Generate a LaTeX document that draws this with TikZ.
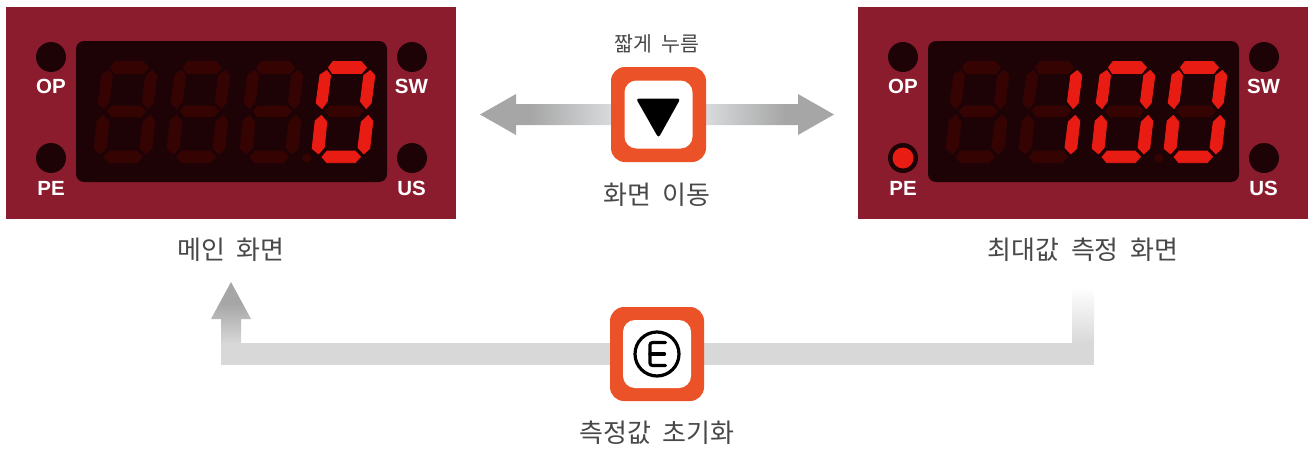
\documentclass[tikz,border=0pt]{standalone}
\usepackage{fontspec}
\setsansfont{Liberation Sans}
\newfontfamily\kr[WordSpace=2]{Noto Sans CJK KR}
\usetikzlibrary{calc,backgrounds}
\definecolor{panelred}{HTML}{8B1C2E}
\definecolor{dispdark}{HTML}{1E0306}
\definecolor{segdim}{HTML}{360303}
\definecolor{seglit}{HTML}{E91C14}
\definecolor{ledblack}{HTML}{1E0306}
\definecolor{btnorange}{HTML}{EC5228}
\definecolor{arrowdark}{HTML}{A6A6A6}
\definecolor{arrowpale}{HTML}{D8DADC}
\definecolor{barpale}{HTML}{D8D8D8}
\definecolor{labeltext}{HTML}{484848}
\pgfdeclarehorizontalshading{fadeleft}{100bp}{color(0bp)=(arrowdark); color(44bp)=(arrowdark); color(75bp)=(arrowpale); color(100bp)=(arrowpale)}
\pgfdeclarehorizontalshading{faderight}{100bp}{color(0bp)=(arrowpale); color(25bp)=(arrowpale); color(56bp)=(arrowdark); color(100bp)=(arrowdark)}
\pgfdeclareverticalshading{fadeup}{100bp}{color(0bp)=(barpale); color(25bp)=(barpale); color(58bp)=(arrowdark); color(100bp)=(arrowdark)}
\pgfdeclareverticalshading{fadewhite}{100bp}{color(0bp)=(barpale); color(25bp)=(barpale); color(75bp)=(white); color(100bp)=(white)}
\tikzset{
  L/.style={fill=seglit,draw=seglit,line width=0.9pt,line join=round},
  D/.style={fill=segdim,draw=segdim,line width=0.9pt,line join=round},
  panelbox/.style={fill=panelred,minimum width=450pt,minimum height=212pt,inner sep=0pt,outer sep=0pt},
  dispbox/.style={fill=dispdark,rounded corners=8pt,minimum width=311pt,minimum height=141pt,inner sep=0pt,outer sep=0pt},
  ledoff/.style={circle,fill=ledblack,minimum size=30pt,inner sep=0pt},
  ledtag/.style={text=white,font=\sffamily\bfseries\fontsize{20.5}{20.5}\selectfont,inner sep=0pt},
  btnouter/.style={fill=btnorange,rounded corners=14pt,minimum size=95pt,inner sep=0pt,outer sep=0pt},
  btninner/.style={fill=white,rounded corners=12pt,minimum size=68pt,inner sep=0pt,outer sep=0pt},
  biglabel/.style={text=labeltext,font=\kr\fontsize{26}{26}\selectfont,inner sep=0pt},
  smalllabel/.style={text=labeltext,font=\kr\fontsize{20.5}{20.5}\selectfont,inner sep=0pt},
}
\newcommand\sevenseg[8]{%
  \begin{scope}[xshift=#1pt]
    \path[#2] (328.5,67.5)--(333,61.5)--(361,61.5)--(366.5,67.5)--(361.5,73.5)--(332.5,73.5)--cycle;
    \path[#3] (316.2,103)--(320,75)--(326.8,70.5)--(330.5,75.5)--(327.2,101.5)--(322,108.5)--cycle;
    \path[#4] (370.3,70.5)--(374.8,75.5)--(371.2,103)--(366.2,108.5)--(360.5,101.5)--(363.8,75.5)--cycle;
    \path[#5] (325.5,111)--(330,106)--(358.5,106)--(363.5,111)--(358.5,116.5)--(329.5,116.5)--cycle;
    \path[#6] (315.2,121)--(321.4,115.5)--(326.8,122)--(324.2,147.5)--(318.5,153.8)--(312.2,148.5)--cycle;
    \path[#7] (368.2,115.5)--(372.8,121)--(369.7,148.5)--(363.8,153.8)--(358,147.5)--(361.3,122)--cycle;
    \path[#8] (322,157)--(327.3,151)--(355,151)--(360.5,156.7)--(355,162.7)--(327,162.7)--cycle;
  \end{scope}}
\newcommand\device[2]{%
  \begin{scope}[xshift=#1pt]
    \node[panelbox] (#2panel) at (231,113) {};
    \node[dispbox] (#2disp) at (231.5,111.5) {};
    \node[ledoff] (#2op) at (51,57) {};
    \node[ledoff] (#2pe) at (51,158) {};
    \node[ledoff] (#2sw) at (412,57) {};
    \node[ledoff] (#2us) at (412,158) {};
    \node[ledtag] (#2optag) at (51,86) {OP};
    \node[ledtag] (#2petag) at (51,188) {PE};
    \node[ledtag] (#2swtag) at (411.5,86) {SW};
    \node[ledtag] (#2ustag) at (411.5,188) {US};
    \node[circle,fill=segdim,minimum size=9pt,inner sep=0pt] (#2dot) at (306.7,158) {};
  \end{scope}}
\begin{document}
\begin{tikzpicture}[x=1pt,y=-1pt]
\useasboundingbox (0,0) rectangle (1309,450);
\device{0}{a}
\sevenseg{-218}{D}{D}{D}{D}{D}{D}{D}
\sevenseg{-145}{D}{D}{D}{D}{D}{D}{D}
\sevenseg{-72}{D}{D}{D}{D}{D}{D}{D}
\sevenseg{0}{L}{L}{L}{D}{L}{L}{L}
\device{852}{b}
\sevenseg{634}{D}{D}{D}{D}{D}{D}{D}
\sevenseg{707}{D}{D}{L}{D}{D}{L}{D}
\sevenseg{780}{L}{L}{L}{D}{L}{L}{L}
\sevenseg{852}{L}{L}{L}{D}{L}{L}{L}
\node[circle,fill=seglit,minimum size=21pt,inner sep=0pt] (peled) at (bpe) {};
% buttons
\node[btnouter] (btnA) at (658.5,114.5) {};
\node[btnouter,minimum size=94pt] (btnB) at (657,354) {};
\node[btninner] (faceA) at (btnA) {};
\node[btninner] (faceB) at (btnB) {};
\fill[black,rounded corners=3pt] (636,98.5)--(680.5,98.5)--(658.5,138)--cycle;
\node[circle,draw=black,line width=3.2pt,minimum size=44pt,inner sep=0pt] (ering) at (faceB) {};
\draw[black,line width=3.2pt,rounded corners=2.5pt,line cap=round] (665.5,342.5)--(650,342.5)--(650,365.5)--(665.5,365.5);
\draw[black,line width=3.2pt,line cap=round] (650,354)--(664.5,354);
% arrows, behind the buttons
\coordinate (tipL) at (480,114.5);
\coordinate (tipR) at (834,114.5);
\coordinate (tipU) at (231,282);
\begin{scope}[on background layer]
\shade[shading=fadeleft] (tipL)--(516,94)--(516,104)--(btnA.west |- 0,104)--(btnA.west |- 0,125)--(516,125)--(516,135)--cycle;
\shade[shading=faderight] (tipR)--(798,94)--(798,104)--(btnA.east |- 0,104)--(btnA.east |- 0,125)--(798,125)--(798,135)--cycle;
\fill[barpale] (221,343) rectangle (btnB.west |- 0,365);
\fill[barpale] (btnB.east |- 0,343) rectangle (1094,365);
\shade[shading=fadewhite] (1072,287) rectangle (1094,343.5);
\shade[shading=fadeup] (tipU)--(251,319)--(241,319)--(241,344)--(221,344)--(221,319)--(211,319)--cycle;
\end{scope}
% labels
\node[smalllabel] (lblshort) at (657,43.5) {짧게 누름};
\node[biglabel] (lblmove) at (657,195) {화면 이동};
\node[biglabel] (lblmain) at (231,250) {메인 화면};
\node[biglabel] (lblmax) at (1083,250) {최대값 측정 화면};
\node[biglabel] (lblreset) at (657,433) {측정값 초기화};
\end{tikzpicture}
\end{document}
